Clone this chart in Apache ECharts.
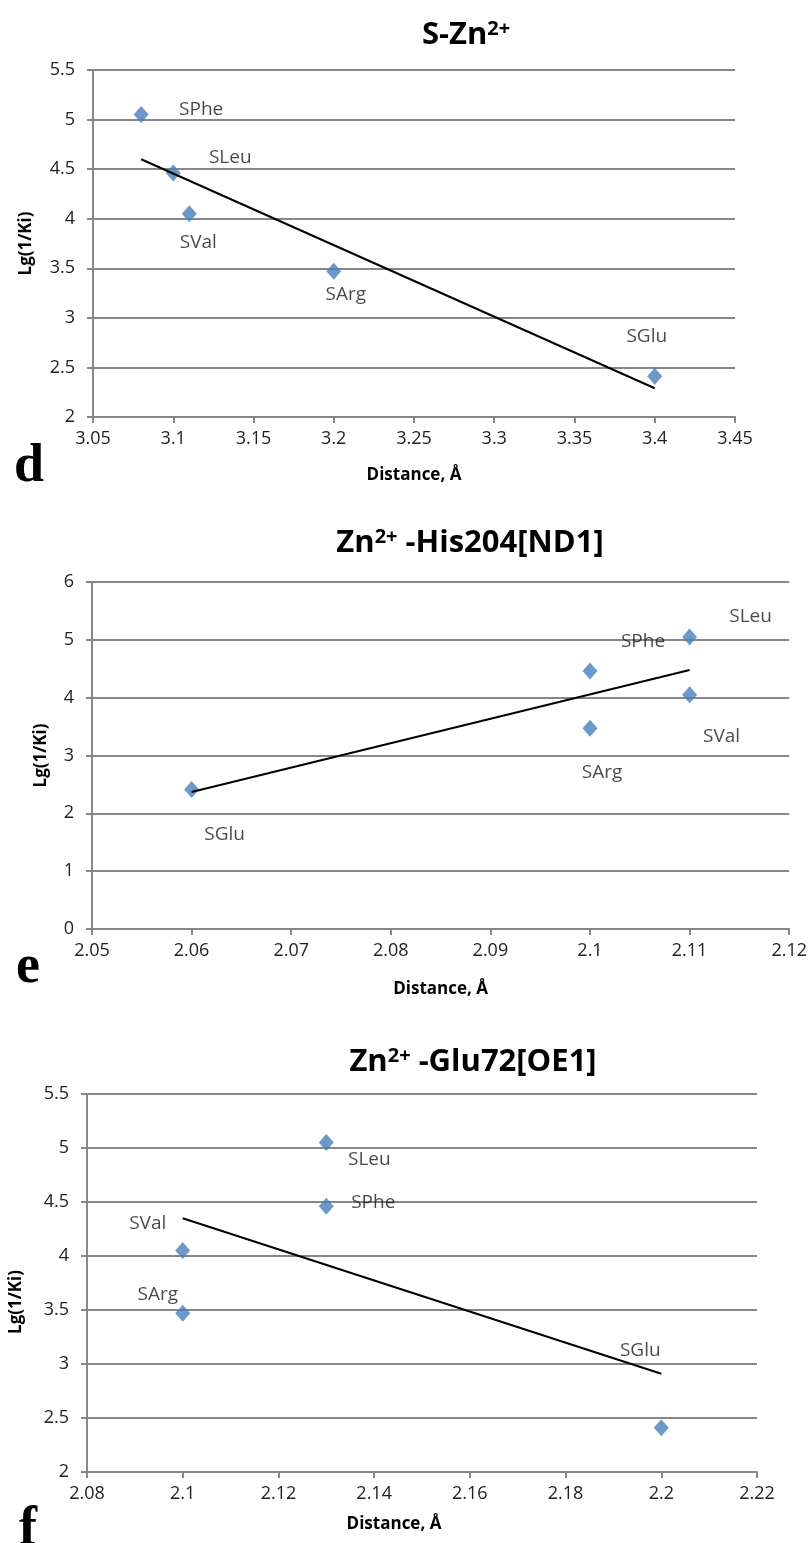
<!DOCTYPE html>
<html>
<head>
<meta charset="utf-8">
<script src="https://cdn.jsdelivr.net/npm/echarts@6/dist/echarts.min.js"></script>
<style>
  html, body { margin: 0; padding: 0; background: #fff; }
  #main { width: 810px; height: 1543px; }
</style>
</head>
<body>
<div id="main"></div>
<script>
// panel d : S-Zn2+
var namesD = ['SPhe', 'SLeu', 'SVal', 'SArg', 'SGlu'];
var xD = [3.08, 3.10, 3.11, 3.20, 3.40];
var yD = [5.05, 4.46, 4.05, 3.47, 2.41];
var trendD = [[3.08, 4.60], [3.40, 2.29]];
var xAxisD = [3.05, 3.45, 0.05];
var yAxisD = [2, 5.5, 0.5];

// panel e : Zn2+ -His204[ND1]
var namesE = ['SGlu', 'SPhe', 'SArg', 'SLeu', 'SVal'];
var xE = [2.06, 2.10, 2.10, 2.11, 2.11];
var yE = [2.41, 4.46, 3.47, 5.05, 4.05];
var trendE = [[2.06, 2.37], [2.11, 4.48]];
var xAxisE = [2.05, 2.12, 0.01];
var yAxisE = [0, 6, 1];

// panel f : Zn2+ -Glu72[OE1]
var namesF = ['SVal', 'SArg', 'SLeu', 'SPhe', 'SGlu'];
var xF = [2.10, 2.10, 2.13, 2.13, 2.20];
var yF = [4.05, 3.47, 5.05, 4.46, 2.41];
var trendF = [[2.10, 4.35], [2.20, 2.91]];
var xAxisF = [2.08, 2.22, 0.02];
var yAxisF = [2, 5.5, 0.5];

// where each point label sits relative to its marker (px)
var offD = [[60, -5], [57, -16], [9, 29], [12, 23], [-8, -40]];
var offE = [[33, 45], [53, -29], [12, 44], [61, -20], [32, 42]];
var offF = [[-35, -27], [-25, -19], [43, 17], [47, -4], [-21, -77]];

var FONT = '"Open Sans", sans-serif';
var GRAY = '#878787';
var BLUE = '#4a7ebb';

var myChart = echarts.init(document.getElementById('main'));

function pts(names, xs, ys, offs) {
    return names.map(function (n, i) {
        return { name: n, value: [xs[i], ys[i]], label: { offset: offs[i] } };
    });
}

function xAx(idx, r, gap, pad) {
    return {
        type: 'value', gridIndex: idx, min: r[0], max: r[1], interval: r[2],
        name: 'Distance, Å', nameLocation: 'middle', nameGap: gap,
        nameTextStyle: { fontFamily: FONT, fontWeight: 'bold', fontSize: 17, color: '#000', padding: pad || 0 },
        axisLine: { show: true, onZero: false, lineStyle: { color: GRAY, width: 2 } },
        axisTick: { show: true, length: 6, lineStyle: { color: GRAY, width: 2 } },
        axisLabel: { fontFamily: FONT, fontSize: 18, color: '#222', margin: 13 },
        splitLine: { show: false }
    };
}

function yAx(idx, r, gap, pad) {
    return {
        type: 'value', gridIndex: idx, min: r[0], max: r[1], interval: r[2],
        name: 'Lg(1/Ki)', nameLocation: 'middle', nameGap: gap, nameRotate: 90,
        nameTextStyle: { fontFamily: FONT, fontWeight: 'bold', fontSize: 17, color: '#000', padding: pad || 0 },
        axisLine: { show: true, onZero: false, lineStyle: { color: GRAY, width: 2 } },
        axisTick: { show: true, length: 6, lineStyle: { color: GRAY, width: 2 } },
        axisLabel: { fontFamily: FONT, fontSize: 18, color: '#222', margin: 18 },
        splitLine: { show: true, lineStyle: { color: GRAY, width: 2 } }
    };
}

function scat(idx, data) {
    return {
        type: 'scatter', xAxisIndex: idx, yAxisIndex: idx, data: data,
        symbol: 'diamond', symbolSize: [15, 17],
        itemStyle: { color: BLUE },
        label: {
            show: true, position: 'inside', formatter: '{b}',
            fontFamily: FONT, fontSize: 19, color: '#1a1a1a'
        },
        z: 3
    };
}

function trend(idx, data) {
    return {
        type: 'line', xAxisIndex: idx, yAxisIndex: idx, data: data,
        showSymbol: false, symbol: 'none', silent: true,
        lineStyle: { color: '#000', width: 2 }, z: 4
    };
}

function titleText(x, y, text) {
    return {
        type: 'text', x: x, y: y,
        style: {
            text: text, align: 'center', verticalAlign: 'middle',
            fontFamily: FONT, fontSize: 31, fontWeight: 'bold', fill: '#000',
            rich: {
                m: { fontFamily: FONT, fontSize: 31, fontWeight: 'bold', color: '#000' },
                sup: { fontFamily: FONT, fontSize: 20, fontWeight: 'bold', color: '#000', verticalAlign: 'top' }
            }
        }
    };
}

function letter(x, y, t) {
    return {
        type: 'text', x: x, y: y,
        style: {
            text: t, align: 'left', verticalAlign: 'top',
            fontFamily: '"Liberation Serif", serif', fontSize: 54, fontWeight: 'bold', fill: '#000'
        }
    };
}

option = {
    animation: false,
    backgroundColor: '#fff',
    grid: [
        { left: 93, top: 70, width: 642, height: 347 },
        { left: 92, top: 582, width: 705, height: 347 },
        { left: 84, top: 1094, width: 673, height: 378 }
    ],
    xAxis: [
        xAx(0, xAxisD, 50),
        xAx(1, xAxisE, 52),
        xAx(2, xAxisF, 44, [0, 56, 0, 0])
    ],
    yAxis: [
        yAx(0, yAxisD, 58),
        yAx(1, yAxisE, 42),
        yAx(2, yAxisF, 62, [0, 38, 0, 0])
    ],
    series: [
        scat(0, pts(namesD, xD, yD, offD)),
        trend(0, trendD),
        scat(1, pts(namesE, xE, yE, offE)),
        trend(1, trendE),
        scat(2, pts(namesF, xF, yF, offF)),
        trend(2, trendF)
    ],
    graphic: [
        titleText(466, 35, '{m|S-Zn}{sup|2+}'),
        titleText(470, 543, '{m|Zn}{sup|2+}{m| -His204[ND1]}'),
        titleText(473, 1062, '{m|Zn}{sup|2+}{m| -Glu72[OE1]}'),
        letter(14, 440, 'd'),
        letter(16, 941, 'e'),
        letter(19, 1503, 'f')
    ]
};
myChart.setOption(option);
</script>
</body>
</html>
